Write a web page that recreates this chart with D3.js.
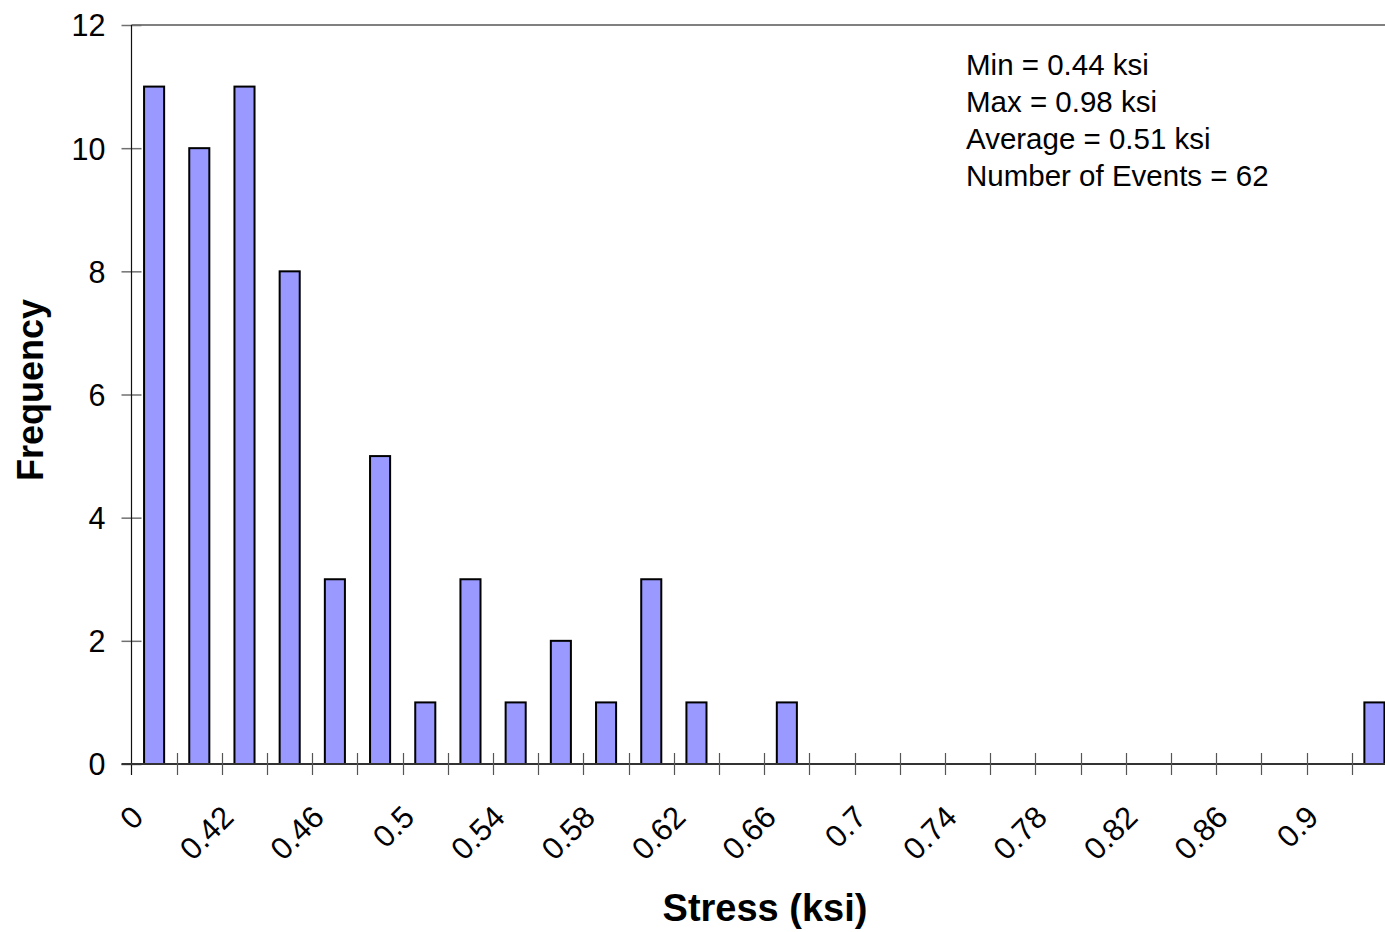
<!DOCTYPE html>
<html>
<head>
<meta charset="utf-8">
<script src="https://cdn.jsdelivr.net/npm/d3@7"></script>
<style>
  html, body { margin: 0; padding: 0; background: #ffffff; overflow: hidden; }
  svg { display: block; font-family: "Liberation Sans", Arial, sans-serif; }
</style>
</head>
<body>
<svg id="chart" width="1385" height="932"></svg>
<script>
// Histogram bins (stress, ksi) and event counts per bin
const categories = ["0", "0.4", "0.42", "0.44", "0.46", "0.48", "0.5", "0.52", "0.54", "0.56",
  "0.58", "0.6", "0.62", "0.64", "0.66", "0.68", "0.7", "0.72", "0.74", "0.76",
  "0.78", "0.8", "0.82", "0.84", "0.86", "0.88", "0.9", "0.92"];
const frequency = [11, 10, 11, 8, 3, 5, 1, 3, 1, 2,
  1, 3, 1, 0, 1, 0, 0, 0, 0, 0,
  0, 0, 0, 0, 0, 0, 0, 1];
// Every other bin is labelled on the axis
const labelledCategories = categories.filter((d, i) => i % 2 === 0);
const yTicks = [0, 2, 4, 6, 8, 10, 12];
const summaryLines = ["Min = 0.44 ksi", "Max = 0.98 ksi", "Average = 0.51 ksi", "Number of Events = 62"];

const svg = d3.select("#chart");
const plotLeft = 131.5, plotRight = 1397, plotTop = 25, plotBottom = 764;

const x = d3.scaleBand()
  .domain(categories)
  .range([plotLeft, plotRight])
  .paddingInner(0.556)
  .paddingOuter(0.278);
const y = d3.scaleLinear().domain([0, 12]).range([plotBottom, plotTop]);

// Top gridline at the axis maximum
svg.append("line")
  .attr("x1", plotLeft).attr("x2", plotRight + 10)
  .attr("y1", y(12)).attr("y2", y(12))
  .attr("stroke", "#808080").attr("stroke-width", 2);

// Y axis with cross ticks
const yAxis = svg.append("g")
  .attr("transform", `translate(${plotLeft},0)`)
  .call(d3.axisLeft(y).tickValues(yTicks).tickSize(0).tickPadding(26).tickFormat(d3.format("d")));
yAxis.select(".domain").remove();
yAxis.selectAll("text")
  .attr("fill", "#000")
  .style("font-size", "30.5px")
  .attr("dy", "0.36em");
yAxis.selectAll(".tick").append("line")
  .attr("x1", -10).attr("x2", 10)
  .attr("stroke", "#707070").attr("stroke-width", 1.5);
svg.append("line")
  .attr("x1", plotLeft).attr("x2", plotLeft)
  .attr("y1", y(12)).attr("y2", plotBottom + 11)
  .attr("stroke", "#111").attr("stroke-width", 1.2);

// Bars
svg.append("g")
  .selectAll("rect")
  .data(categories.map((c, i) => ({ c, v: frequency[i] })))
  .join("rect")
  .attr("x", d => x(d.c))
  .attr("width", x.bandwidth())
  .attr("y", d => y(d.v))
  .attr("height", d => y(0) - y(d.v))
  .attr("fill", "#9999FF")
  .attr("stroke", "#000")
  .attr("stroke-width", 2);

// X axis line and bin boundary ticks
svg.append("line")
  .attr("x1", plotLeft - 10).attr("x2", plotRight + 10)
  .attr("y1", plotBottom).attr("y2", plotBottom)
  .attr("stroke", "#333").attr("stroke-width", 2.2);
const boundaries = d3.range(1, categories.length + 1).map(i => plotLeft + i * x.step());
svg.append("g")
  .selectAll("line")
  .data(boundaries)
  .join("line")
  .attr("x1", d => Math.round(d) + 0.5).attr("x2", d => Math.round(d) + 0.5)
  .attr("y1", plotBottom - 11).attr("y2", plotBottom + 11)
  .attr("stroke", "#555").attr("stroke-width", 1.2);

// Rotated category labels
const xAxis = svg.append("g")
  .attr("transform", `translate(0,${plotBottom})`)
  .call(d3.axisBottom(x).tickValues(labelledCategories).tickSize(0));
xAxis.select(".domain").remove();
xAxis.selectAll("text")
  .attr("fill", "#000")
  .style("font-size", "31px")
  .attr("x", 0).attr("y", 0).attr("dy", 0)
  .attr("text-anchor", "end")
  .attr("transform", "translate(-9,55) rotate(-45)");

// Axis titles
svg.append("text")
  .attr("x", 765).attr("y", 921)
  .attr("text-anchor", "middle")
  .style("font-size", "38px").style("font-weight", "bold")
  .text("Stress (ksi)");
svg.append("text")
  .attr("transform", "translate(43,390) rotate(-90)")
  .attr("text-anchor", "middle")
  .style("font-size", "36px").style("font-weight", "bold")
  .text("Frequency");

// Summary statistics
svg.append("g")
  .selectAll("text")
  .data(summaryLines)
  .join("text")
  .attr("x", 966)
  .attr("y", (d, i) => 75 + i * 37)
  .style("font-size", "29.5px")
  .text(d => d);
</script>
</body>
</html>
